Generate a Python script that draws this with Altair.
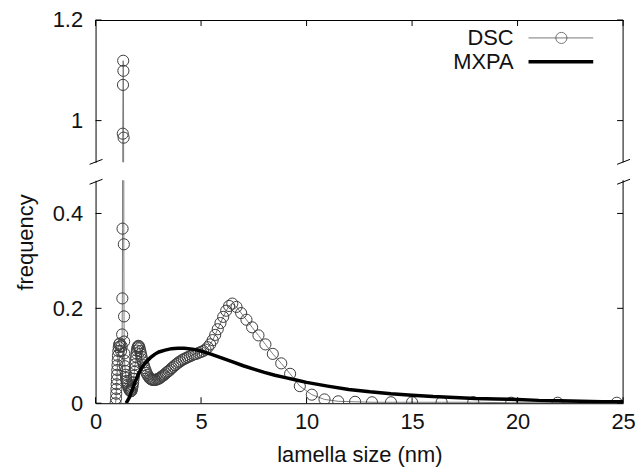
import altair as alt
import pandas as pd

# ---------------- data ----------------
# DSC: narrow column and spike near 1.3 nm
dsc_x_a = [0.95, 0.97, 0.98, 0.99, 1.00, 1.01, 1.02, 1.03, 1.04, 1.05, 1.06, 1.08, 1.10, 1.12,
           1.15, 1.18, 1.21, 1.24, 1.26, 1.27, 1.28, 1.29, 1.30, 1.31, 1.32, 1.33, 1.34, 1.35,
           1.355, 1.36]
dsc_y_a = [0.000, 0.010, 0.020, 0.030, 0.040, 0.050, 0.060, 0.070, 0.080, 0.090, 0.100, 0.110,
           0.118, 0.124, 0.126, 0.120, 0.110, 0.120, 0.145, 0.221, 0.368, 0.974, 1.071, 1.119,
           1.099, 0.966, 0.335, 0.183, 0.130, 0.105]
# DSC: wavy band and rise to the main peak
dsc_x_b = [1.37, 1.39, 1.41, 1.43, 1.45, 1.47, 1.49, 1.52, 1.55, 1.58,
           1.61, 1.64, 1.67, 1.70, 1.72, 1.74, 1.76, 1.78, 1.80, 1.82,
           1.84, 1.86, 1.88, 1.90, 1.92, 1.94, 1.96, 1.98, 2.00, 2.03,
           2.06, 2.09, 2.12, 2.15, 2.18, 2.21, 2.25, 2.29, 2.33, 2.37,
           2.41, 2.46, 2.51, 2.56, 2.61, 2.66, 2.71, 2.77, 2.83, 2.89,
           2.95, 3.01, 3.07, 3.13, 3.19, 3.26, 3.33, 3.40, 3.47, 3.54,
           3.61, 3.69, 3.77, 3.85, 3.93, 4.01, 4.10, 4.19, 4.28, 4.37,
           4.47, 4.57, 4.67, 4.77, 4.88, 4.99, 5.10, 5.21, 5.32, 5.43,
           5.55, 5.67, 5.79, 5.92, 6.05, 6.19, 6.33, 6.48]
dsc_y_b = [0.090, 0.078, 0.068, 0.060, 0.053, 0.047, 0.043, 0.039, 0.035, 0.031,
           0.028, 0.026, 0.025, 0.026, 0.029, 0.033, 0.038, 0.044, 0.051, 0.058,
           0.066, 0.074, 0.082, 0.090, 0.098, 0.105, 0.111, 0.116, 0.119, 0.121,
           0.120, 0.116, 0.110, 0.104, 0.098, 0.092, 0.086, 0.080, 0.074, 0.069,
           0.064, 0.060, 0.056, 0.053, 0.051, 0.050, 0.049, 0.049, 0.049, 0.050,
           0.051, 0.052, 0.054, 0.056, 0.058, 0.060, 0.063, 0.066, 0.068, 0.071,
           0.074, 0.077, 0.080, 0.083, 0.086, 0.088, 0.091, 0.093, 0.095, 0.097,
           0.099, 0.101, 0.103, 0.104, 0.106, 0.108, 0.110, 0.113, 0.118, 0.124,
           0.133, 0.144, 0.156, 0.169, 0.182, 0.195, 0.205, 0.210]
# DSC: descent and tail
dsc_x_c = [6.68, 6.90, 7.15, 7.42, 7.72, 8.05, 8.40, 8.80, 9.22, 9.68, 10.25, 10.85, 11.50,
           12.30, 13.10, 14.00, 15.00, 16.40, 17.90, 19.70, 21.90, 24.70]
dsc_y_c = [0.203, 0.190, 0.176, 0.160, 0.143, 0.124, 0.104, 0.084, 0.062, 0.036, 0.018, 0.008,
           0.004, 0.003, 0.002, 0.002, 0.002, 0.002, 0.002, 0.001, 0.001, 0.001]

mxpa_x = [1.45, 1.60, 1.75, 1.90, 2.05, 2.20, 2.40, 2.60, 2.80, 3.00, 3.30, 3.60, 3.90, 4.20,
          4.60, 5.00, 5.50, 6.00, 6.50, 7.00, 7.50, 8.00, 8.50, 9.00, 9.50, 10.0, 11.0, 12.0,
          13.0, 14.0, 15.0, 16.0, 17.0, 18.0, 19.0, 20.0, 21.0, 22.0, 23.0, 24.0, 25.0]
mxpa_y = [0.000, 0.012, 0.030, 0.048, 0.063, 0.076, 0.087, 0.096, 0.103, 0.108, 0.112, 0.115,
          0.116, 0.116, 0.114, 0.110, 0.103, 0.095, 0.087, 0.079, 0.072, 0.065, 0.059, 0.054,
          0.049, 0.044, 0.036, 0.029, 0.024, 0.020, 0.017, 0.014, 0.012, 0.010, 0.009, 0.008,
          0.006, 0.005, 0.004, 0.003, 0.003]

series_names = ["DSC", "MXPA"]
x_ticks = [0, 5, 10, 15, 20, 25]
low_ticks = [0, 0.2, 0.4]
up_ticks = [1, 1.2]
x_title = "lamella size (nm)"
y_title = "frequency"

# ---------------- layout constants ----------------
W = 530
H_UP = 143
H_LO = 224
FONT = "Liberation Sans"
FS = 22
TXT = "#111111"
TL = 6  # inward tick length

dsc = pd.DataFrame({"x": dsc_x_a + dsc_x_b + dsc_x_c, "y": dsc_y_a + dsc_y_b + dsc_y_c})
mx = pd.DataFrame({"x": mxpa_x, "y": mxpa_y})
one = pd.DataFrame({"k": [0]})
xt = pd.DataFrame({"t": x_ticks})

AX = dict(labelFont=FONT, labelFontSize=FS, labelColor=TXT,
          titleFont=FONT, titleFontSize=FS, titleColor=TXT, titleFontWeight="normal",
          labelOverlap=False, grid=False, ticks=False, tickSize=0,
          domainColor="black", domainWidth=1)


def panel(y_domain, height, y_vals, lower):
    xs = alt.Scale(domain=[0, 25], nice=False, zero=False)
    ys = alt.Scale(domain=y_domain, nice=False, zero=False)
    if lower:
        xaxis = alt.Axis(orient="bottom", values=x_ticks, labelFlush=False, labelPadding=8,
                         title=x_title, titlePadding=13, **AX)
        yaxis = alt.Axis(values=y_vals, format="~g", labelPadding=13, title=y_title,
                         titleX=-70, titleY=62, titleAngle=270, titleBaseline="middle",
                         titleAlign="center", **AX)
    else:
        xaxis = alt.Axis(orient="top", labels=False, title=None, **AX)
        yaxis = alt.Axis(values=y_vals, format="~g", labelPadding=13, title=None, **AX)

    X = alt.X("x:Q", scale=xs, axis=xaxis)
    Y = alt.Y("y:Q", scale=ys, axis=yaxis)
    XT = alt.X("t:Q", scale=xs, axis=xaxis)
    YT = alt.Y("t:Q", scale=ys, axis=yaxis)

    layers = []
    layers.append(alt.Chart(dsc).mark_line(clip=True, color="#7a7a7a", strokeWidth=1).encode(x=X, y=Y))
    layers.append(alt.Chart(dsc).mark_point(clip=True, shape="circle", filled=False, size=125,
                                            color="#3c3c3c", strokeWidth=1, opacity=1).encode(x=X, y=Y))
    layers.append(alt.Chart(mx).mark_line(clip=True, color="black", strokeWidth=3.5).encode(x=X, y=Y))

    # inward ticks on x (bottom for lower panel, top for upper panel)
    if lower:
        layers.append(alt.Chart(xt).mark_rule(color="black", strokeWidth=1).encode(
            x=XT, y=alt.value(height), y2=alt.value(height - TL)))
    else:
        layers.append(alt.Chart(xt).mark_rule(color="black", strokeWidth=1).encode(
            x=XT, y=alt.value(0), y2=alt.value(TL)))
    yt = pd.DataFrame({"t": y_vals})
    layers.append(alt.Chart(yt).mark_rule(color="black", strokeWidth=1).encode(
        y=YT, x=alt.value(0), x2=alt.value(TL)))
    layers.append(alt.Chart(yt).mark_rule(color="black", strokeWidth=1).encode(
        y=YT, x=alt.value(W - TL), x2=alt.value(W)))
    # right border
    layers.append(alt.Chart(one).mark_rule(color="black", strokeWidth=1).encode(
        x=alt.value(W), y=alt.value(0), y2=alt.value(height)))
    # axis-break marks
    if lower:
        yb1, yb2 = 4, -1
    else:
        yb1, yb2 = height + 2, height - 3
    for xc in (0, W):
        layers.append(alt.Chart(one).mark_rule(color="black", strokeWidth=1).encode(
            x=alt.value(xc - 6), x2=alt.value(xc + 7), y=alt.value(yb1), y2=alt.value(yb2)))

    if not lower:
        # key
        for i, name in enumerate(series_names):
            yy = 18 + 24 * i
            layers.append(alt.Chart(pd.DataFrame({"s": [name]})).mark_text(
                align="right", baseline="middle", font=FONT, fontSize=FS, color=TXT).encode(
                x=alt.value(420), y=alt.value(yy), text="s:N"))
            if name == "DSC":
                layers.append(alt.Chart(one).mark_rule(color="#7a7a7a", strokeWidth=1).encode(
                    x=alt.value(435), x2=alt.value(500), y=alt.value(yy)))
                layers.append(alt.Chart(one).mark_point(shape="circle", filled=False, size=125,
                                                        color="#3c3c3c", strokeWidth=1).encode(
                    x=alt.value(468), y=alt.value(yy)))
            else:
                layers.append(alt.Chart(one).mark_rule(color="black", strokeWidth=3.5).encode(
                    x=alt.value(435), x2=alt.value(500), y=alt.value(yy)))

    return alt.layer(*layers).properties(width=W, height=height)


upper = panel([0.917, 1.2], H_UP, up_ticks, lower=False)
lower = panel([0.0, 0.47], H_LO, low_ticks, lower=True)

chart = alt.vconcat(upper, lower, spacing=13).properties(
    padding={"left": 15, "right": 5, "top": 8, "bottom": 4},
    background="white",
).configure_view(strokeWidth=0)

chart.save("out.html", embed_options={"renderer": "svg", "actions": False})
